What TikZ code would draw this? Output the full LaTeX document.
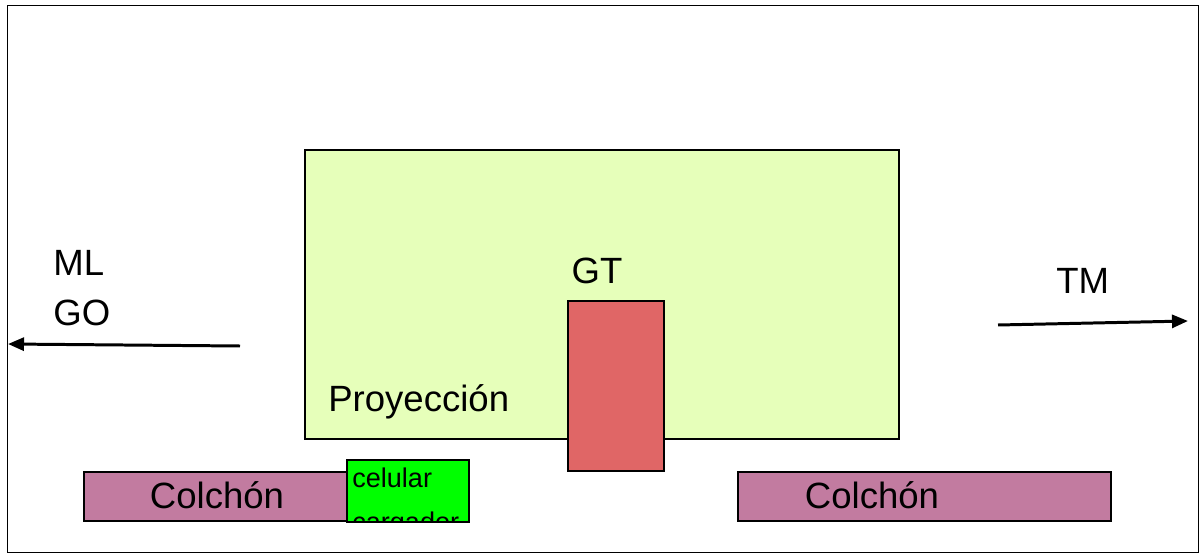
\documentclass[tikz,border=0pt]{standalone}
\usepackage{fontspec}
\setmainfont{Liberation Sans}
\usetikzlibrary{arrows.meta}
\definecolor{proyfill}{RGB}{230,255,186}
\definecolor{gtfill}{RGB}{224,102,102}
\definecolor{colfill}{RGB}{194,123,160}
\definecolor{celfill}{RGB}{0,255,0}
\begin{document}
\begin{tikzpicture}[x=0.02cm,y=-0.02cm,
  box/.style={draw, line width=0.85pt, inner sep=0pt, outer sep=0pt, anchor=north west},
  lbl/.style={inner sep=0pt, font=\fontsize{20.8}{25}\selectfont},
  sml/.style={inner sep=0pt, font=\fontsize{15.4}{25}\selectfont, align=left},
  flecha/.style={line width=1.7pt, -{Triangle[length=0.32cm,width=0.26cm]}}]
\useasboundingbox (0,0) rectangle (1200,554);
\node[draw, line width=0.85pt, inner sep=0pt, anchor=north west, minimum width=23.82cm, minimum height=10.94cm] (marco) at (7,5){};
\node[box, fill=proyfill, minimum width=11.88cm, minimum height=5.78cm] (proy) at (305,150){};
\node[box, fill=gtfill, minimum width=1.92cm, minimum height=3.4cm] (gt) at (568,301){};
\node[box, fill=colfill, minimum width=5.26cm, minimum height=0.98cm] (colizq) at (84,472){};
\node[box, fill=celfill, minimum width=2.44cm, minimum height=1.24cm] (cel) at (347,460){};
\node[box, fill=colfill, minimum width=7.46cm, minimum height=0.98cm] (colder) at (738,472){};
\begin{scope}
\clip (cel.north west) rectangle (cel.south east);
\node[sml, anchor=base west] (celtxt) at (352,531){celular\\cargador};
\end{scope}
\node[lbl, anchor=base west] (proytxt) at (328,411){Proyección};
\node[lbl, anchor=base] (gttxt) at (597,283){GT};
\node[lbl, anchor=base] (colizqtxt) at (217,508){Colchón};
\node[lbl, anchor=base] (coldertxt) at (872,508){Colchón};
\node[lbl, anchor=base west] (ml) at (53,275){ML};
\node[lbl, anchor=base west] (go) at (53,325){GO};
\node[lbl, anchor=base west] (tm) at (1056,293){TM};
\coordinate (izqa) at (240,346);
\coordinate (izqb) at (8,344);
\coordinate (dera) at (998,325);
\coordinate (derb) at (1188,321);
\draw[flecha] (izqa) -- (izqb);
\draw[flecha] (dera) -- (derb);
\end{tikzpicture}
\end{document}
